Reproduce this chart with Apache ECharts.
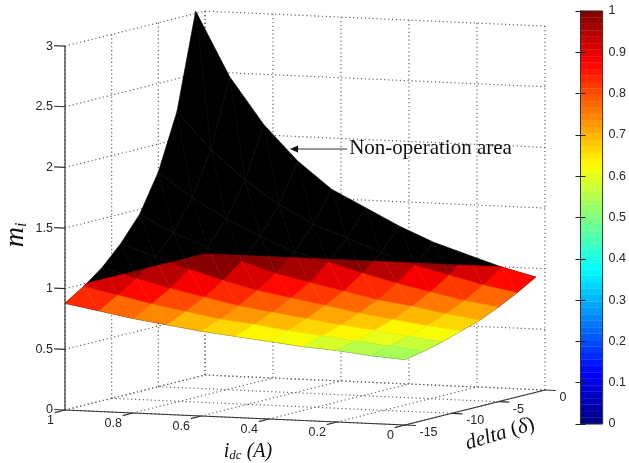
<!DOCTYPE html>
<html>
<head>
<meta charset="utf-8">
<style>html,body{margin:0;padding:0;background:#fff}#c{width:629px;height:463px}</style>
<script src="https://cdn.jsdelivr.net/npm/echarts@6/dist/echarts.min.js"></script>
</head>
<body>
<div id="c"></div>
<script>
// ---- data ----
const idcValues = [1, 0.9, 0.8, 0.7, 0.6, 0.5, 0.4, 0.3, 0.2, 0.1, 0];
const deltaValues = [-15, -13, -11, -9, -7, -5, -3, -1];
// m_i: one row per delta, one column per idc
const miRow0 = [0.88, 0.83, 0.78, 0.74, 0.70, 0.67, 0.64, 0.61, 0.59, 0.56, 0.54];
const miRow1 = [0.98, 0.92, 0.86, 0.81, 0.76, 0.73, 0.69, 0.66, 0.63, 0.60, 0.57];
const miRow2 = [1.10, 1.02, 0.95, 0.89, 0.83, 0.79, 0.75, 0.71, 0.68, 0.64, 0.61];
const miRow3 = [1.26, 1.16, 1.07, 0.99, 0.92, 0.87, 0.82, 0.77, 0.73, 0.69, 0.66];
const miRow4 = [1.46, 1.32, 1.21, 1.11, 1.02, 0.96, 0.90, 0.84, 0.80, 0.75, 0.71];
const miRow5 = [1.77, 1.57, 1.41, 1.28, 1.16, 1.09, 1.01, 0.94, 0.88, 0.82, 0.78];
const miRow6 = [2.23, 1.93, 1.69, 1.50, 1.35, 1.25, 1.14, 1.05, 0.98, 0.91, 0.86];
const miRow7 = [3.02, 2.49, 2.11, 1.82, 1.60, 1.46, 1.32, 1.20, 1.11, 1.02, 0.95];
const miRows = [miRow0, miRow1, miRow2, miRow3, miRow4, miRow5, miRow6, miRow7];
const idcTicks = [1, 0.8, 0.6, 0.4, 0.2, 0];
const deltaTicks = [-15, -10, -5, 0];
const miTicks = [0, 0.5, 1, 1.5, 2, 2.5, 3];
const colorLevels = 64;
const operationLimit = 1;
const noteText = 'Non-operation area';

// ---- view: orthographic projection of (idc, delta, mi) on the page plane ----
function project(idc, delta, mi) {
  const a = 1 - idc, b = delta + 15;
  return [65 + a * 340 + b * 9.333, 410 + a * 15 - b * 2.333 - mi * 121.3];
}
function jet(v) {
  const c = t => Math.round(255 * Math.max(0, Math.min(1, t)));
  const q = (Math.min(Math.floor(v * colorLevels), colorLevels - 1) + 0.5) / colorLevels;
  return 'rgb(' + c(1.5 - Math.abs(4 * q - 3)) + ',' + c(1.5 - Math.abs(4 * q - 2)) + ',' + c(1.5 - Math.abs(4 * q - 1)) + ')';
}

// facets
const facets = [];
for (let n = deltaValues.length - 2; n >= 0; n--)
  for (let k = 0; k < idcValues.length - 1; k++) facets.push([k, n]);

// keep the part of a polygon on the lower side of the line p->q (page y grows downward)
function clipBelow(poly, p, q) {
  const side = a => (q[0] - p[0]) * (a[1] - p[1]) - (q[1] - p[1]) * (a[0] - p[0]);
  const out = [];
  for (let i = 0; i < poly.length; i++) {
    const a = poly[i], b = poly[(i + 1) % poly.length];
    const sa = side(a), sb = side(b);
    if (sa >= 0) out.push(a);
    if ((sa >= 0) !== (sb >= 0)) {
      const t = sa / (sa - sb);
      out.push([a[0] + (b[0] - a[0]) * t, a[1] + (b[1] - a[1]) * t]);
    }
  }
  return out;
}

function surfaceItem(masked, fillOf, seam, seamAll) {
  return function (params, api) {
    const k = api.value(0), n = api.value(1);
    const P = (kk, nn) => api.coord(project(idcValues[kk], deltaValues[nn], miRows[nn][kk]));
    const a = P(k, n), b = P(k + 1, n), c = P(k + 1, n + 1), d = P(k, n + 1);
    const fill = fillOf(k, n);
    let poly = [a, b, c, d];
    let diag = [d, b];
    if (masked) {
      // the coloured sheet stops at the back edges of the m_i = limit plane
      const L0 = api.coord(project(1, -15, operationLimit));
      const L1 = api.coord(project(1, 0, operationLimit));
      const L2 = api.coord(project(0, 0, operationLimit));
      poly = clipBelow(clipBelow(poly, L0, L1), L1, L2);
      diag = clipBelow(clipBelow(diag, L0, L1), L1, L2);
      if (poly.length < 3) return { type: 'group', children: [] };
    }
    const children = [{
      type: 'polygon', shape: { points: poly },
      style: { fill: fill, stroke: fill, lineWidth: 0.6 }
    }];
    if (diag.length >= 2) {
      children.push({
        type: 'line', shape: { x1: diag[0][0], y1: diag[0][1], x2: diag[1][0], y2: diag[1][1] },
        style: { stroke: seam, lineWidth: 0.7, fill: null }
      });
    }
    if (seamAll) {
      children.push({ type: 'line', shape: { x1: a[0], y1: a[1], x2: b[0], y2: b[1] }, style: { stroke: seam, lineWidth: 0.7 } });
      children.push({ type: 'line', shape: { x1: b[0], y1: b[1], x2: c[0], y2: c[1] }, style: { stroke: seam, lineWidth: 0.7 } });
    }
    return { type: 'group', children: children };
  };
}

// wall and floor grid lines, in data units
const gridLines = [];
idcTicks.forEach(i => {
  gridLines.push([i, 0, 0, i, 0, 3]);
  gridLines.push([i, -15, 0, i, 0, 0]);
});
deltaTicks.forEach(d => {
  gridLines.push([1, d, 0, 1, d, 3]);
  gridLines.push([1, d, 0, 0, d, 0]);
});
miTicks.forEach(z => {
  gridLines.push([1, -15, z, 1, 0, z]);
  gridLines.push([1, 0, z, 0, 0, z]);
});

function lineItem(color, width, dash) {
  return function (params, api) {
    const p = api.coord(project(api.value(0), api.value(1), api.value(2)));
    const q = api.coord(project(api.value(3), api.value(4), api.value(5)));
    return { type: 'line', shape: { x1: p[0], y1: p[1], x2: q[0], y2: q[1] },
      style: { stroke: color, lineWidth: width, lineDash: dash || null } };
  };
}

// axis lines and outward ticks
const axisLines = [
  [1, -15, 0, 1, -15, 3],
  [1, -15, 0, 0, -15, 0],
  [0, -15, 0, 0, 0, 0]
];
idcTicks.forEach(i => axisLines.push([i, -15, 0, i, -16.1, 0]));
deltaTicks.forEach(d => axisLines.push([0, d, 0, -0.032, d, 0]));
miTicks.forEach(z => axisLines.push([1, -15, z, 1.032, -15, z]));

// text labels beside axes
const TICK_FONT = '12.5px "Liberation Sans"';
const labels = [];
miTicks.forEach(z => labels.push({ pos: project(1, -15, z), dx: -12, dy: 0, text: String(z), align: 'right' }));
idcTicks.forEach(i => labels.push({ pos: project(i, -15, 0), dx: -11, dy: 10.5, text: String(i), align: 'right' }));
deltaTicks.forEach(d => labels.push({ pos: project(0, d, 0), dx: 14.5, dy: 7.5, text: String(d), align: 'left' }));

function labelItem(params, api) {
  const l = labels[params.dataIndex];
  const p = api.coord(l.pos);
  return { type: 'text', x: p[0] + l.dx, y: p[1] + l.dy,
    style: { text: l.text, font: TICK_FONT, fill: '#262626', align: l.align, verticalAlign: 'middle' } };
}

const titles = [
  { x: 16, y: 235, rotation: Math.PI / 2, text: '{m|m}{s|i}',
    rich: { m: { font: 'italic 28px "Liberation Serif"', fill: '#111' },
            s: { font: 'italic 16px "Liberation Serif"', fill: '#111', verticalAlign: 'bottom', padding: [10, 0, 0, 0] } } },
  { x: 248, y: 452, rotation: 0, text: '{m|i}{s|dc}{m| (A)}',
    rich: { m: { font: 'italic 20px "Liberation Serif"', fill: '#111' },
            s: { font: 'italic 13px "Liberation Serif"', fill: '#111', verticalAlign: 'bottom', padding: [6, 0, 0, 0] } } },
  { x: 500, y: 434, rotation: 0.29, text: '{m|delta }{u|(}{m|\u03b4}{u|)}',
    rich: { m: { font: 'italic 21px "Liberation Serif"', fill: '#111' },
            u: { font: '21px "Liberation Serif"', fill: '#111' } } },
  { x: 430.5, y: 148, rotation: 0, text: noteText, font: '21px "Liberation Serif"' }
];
function titleItem(params, api) {
  const t = titles[params.dataIndex];
  const p = api.coord([t.x, t.y]);
  return { type: 'text', x: p[0], y: p[1], rotation: t.rotation,
    style: { text: t.text, rich: t.rich, font: t.font, fill: '#111', align: 'center', verticalAlign: 'middle' } };
}
function arrowItem(params, api) {
  const tip = api.coord([290, 149]), tail = api.coord([347, 149]);
  return { type: 'group', children: [
    { type: 'line', shape: { x1: tip[0] + 5, y1: tip[1], x2: tail[0], y2: tail[1] }, style: { stroke: '#333', lineWidth: 1 } },
    { type: 'polygon', shape: { points: [tip, [tip[0] + 8, tip[1] - 3.5], [tip[0] + 8, tip[1] + 3.5]] }, style: { fill: '#111' } }
  ] };
}

// colour bar
const colorSteps = [];
for (let i = 0; i < colorLevels; i++) colorSteps.push([i / colorLevels, (i + 1) / colorLevels]);
function barItem(params, api) {
  const a = api.coord([0, api.value(1)]), b = api.coord([1, api.value(0)]);
  const v = (api.value(0) + api.value(1)) / 2;
  const c = jet(v);
  return { type: 'rect', shape: { x: a[0], y: a[1], width: b[0] - a[0], height: b[1] - a[1] },
    style: { fill: c, stroke: c, lineWidth: 0.3 } };
}

const plane = { animation: false, silent: true, clip: false, type: 'custom', xAxisIndex: 0, yAxisIndex: 0, coordinateSystem: 'cartesian2d' };
const option = {
  animation: false,
  backgroundColor: '#fff',
  grid: [
    { left: 0, top: 0, width: 629, height: 463, show: false },
    { left: 580.5, top: 11, width: 26, height: 413, show: true, borderColor: '#333', borderWidth: 1, z: 5 }
  ],
  xAxis: [
    { type: 'value', gridIndex: 0, min: 0, max: 629, show: false },
    { type: 'value', gridIndex: 1, min: 0, max: 1, show: false }
  ],
  yAxis: [
    { type: 'value', gridIndex: 0, min: 0, max: 463, inverse: true, show: false },
    { type: 'value', gridIndex: 1, min: 0, max: 1, interval: 0.1, position: 'right',
      axisLine: { show: true, lineStyle: { color: '#333' } },
      axisTick: { show: true, inside: true, length: 5, lineStyle: { color: '#222' } },
      axisLabel: { show: true, margin: 6, color: '#262626', fontSize: 12.5, fontFamily: 'Liberation Sans',
        formatter: v => String(Math.round(v * 10) / 10) },
      splitLine: { show: false }, z: 6 },
    { type: 'value', gridIndex: 1, min: 0, max: 1, interval: 0.1, position: 'left',
      axisLine: { show: true, lineStyle: { color: '#333' } },
      axisTick: { show: true, inside: true, length: 5, lineStyle: { color: '#222' } },
      axisLabel: { show: false }, splitLine: { show: false }, z: 6 }
  ],
  series: [
    Object.assign({}, plane, { name: 'grid', data: gridLines, renderItem: lineItem('#666', 1.2, [1.2, 2.7]), z: 1 }),
    Object.assign({}, plane, { name: 'mi above limit', data: facets,
      renderItem: surfaceItem(false, () => '#000', 'rgba(255,255,255,0.07)', true), z: 2 }),
    Object.assign({}, plane, { name: 'mi', data: facets,
      renderItem: surfaceItem(true, (k, n) => jet(Math.min(miRows[n][k + 1], 1)), 'rgba(255,255,255,0.12)', false), z: 3 }),
    Object.assign({}, plane, { name: 'axes', data: axisLines, renderItem: lineItem('#333', 1.2), z: 4 }),
    Object.assign({}, plane, { name: 'tick labels', data: labels.map((l, i) => [i]), renderItem: labelItem, z: 4 }),
    Object.assign({}, plane, { name: 'titles', data: titles.map((t, i) => [i]), renderItem: titleItem, z: 4 }),
    Object.assign({}, plane, { name: 'arrow', data: [[0]], renderItem: arrowItem, z: 4 }),
    { type: 'custom', name: 'colorbar', silent: true, xAxisIndex: 1, yAxisIndex: 1, coordinateSystem: 'cartesian2d',
      data: colorSteps, renderItem: barItem, z: 4 }
  ]
};
const chart = echarts.init(document.getElementById('c'), null, { renderer: 'canvas' });
chart.setOption(option);
</script>
</body>
</html>
